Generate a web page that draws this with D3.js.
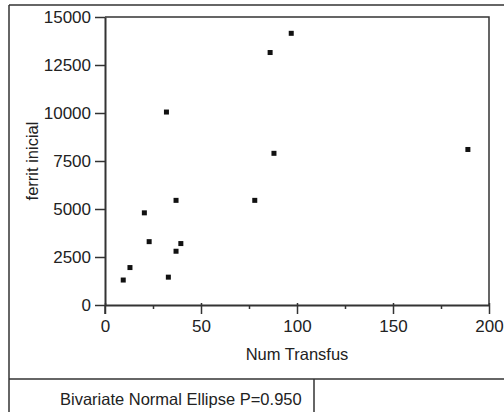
<!DOCTYPE html>
<html>
<head>
<meta charset="utf-8">
<script src="https://cdn.jsdelivr.net/npm/d3@7"></script>
<style>
  body { margin: 0; background: #fff; }
  svg { display: block; font-family: "Liberation Sans", Arial, sans-serif; }
  .axis text { font-size: 17px; fill: #222; }
  .axis path, .axis line { stroke: #333; }
</style>
</head>
<body>
<div class="chart"></div>
<script>
// data
const numTransfus = [32, 97, 86, 88, 189, 20.5, 37, 78, 23, 39.5, 37, 13, 9.5, 33];
const ferritInicial = [10050, 14150, 13150, 7900, 8100, 4800, 5450, 5450, 3300, 3200, 2800, 1950, 1300, 1450];
const xTicks = [0, 50, 100, 150, 200];
const xMinorTicks = [25, 75, 125, 175];
const yTicks = [0, 2500, 5000, 7500, 10000, 12500, 15000];

const W = 504, H = 412;
const margin = { top: 17, right: 15, bottom: 107, left: 105 };
const width = W - margin.left - margin.right,
  height = H - margin.top - margin.bottom;

const svg = d3.select(".chart")
  .append("svg")
  .attr("width", W)
  .attr("height", H);

// outer report frame
const frame = svg.append("g").attr("stroke", "#333").attr("stroke-width", 1.5).attr("fill", "none");
frame.append("line").attr("x1", 9).attr("x2", W).attr("y1", 5).attr("y2", 5);
frame.append("line").attr("x1", 9).attr("x2", 9).attr("y1", 5).attr("y2", H);
frame.append("line").attr("x1", 9).attr("x2", W).attr("y1", 379).attr("y2", 379);
frame.append("line").attr("x1", 314).attr("x2", 314).attr("y1", 379).attr("y2", H);

svg.append("text")
  .attr("x", 60)
  .attr("y", 405)
  .style("font-size", "16.5px")
  .style("fill", "#222")
  .text("Bivariate Normal Ellipse P=0.950");

const g = svg.append("g")
  .attr("transform", "translate(" + margin.left + "," + margin.top + ")");

// scales
const x = d3.scaleLinear().domain([0, 200]).range([0, width]);
const y = d3.scaleLinear().domain([0, 15000]).range([height, 0]);

// plot frame (top and right)
g.append("path")
  .attr("d", "M0,0H" + width + "V" + height)
  .attr("fill", "none")
  .attr("stroke", "#333")
  .attr("stroke-width", 1.5);

// minor x ticks
g.append("g")
  .attr("class", "axis")
  .attr("transform", "translate(0," + height + ")")
  .call(d3.axisBottom(x).tickValues(xMinorTicks).tickSize(4).tickFormat(""))
  .call(a => a.select(".domain").remove())
  .selectAll("line").attr("stroke-width", 1.5);

// x axis
const xAxisG = g.append("g")
  .attr("class", "axis")
  .attr("transform", "translate(0," + height + ")")
  .call(d3.axisBottom(x).tickValues(xTicks).tickFormat(d3.format("d")).tickSize(9).tickSizeOuter(0).tickPadding(6));
xAxisG.select(".domain").attr("stroke-width", 2);
xAxisG.selectAll("line").attr("stroke-width", 1.5).attr("y1", -2);

// y axis
const yAxisG = g.append("g")
  .attr("class", "axis")
  .call(d3.axisLeft(y).tickValues(yTicks).tickFormat(d3.format("d")).tickSize(10).tickSizeOuter(0).tickPadding(4));
yAxisG.select(".domain").attr("stroke-width", 2);
yAxisG.selectAll("line").attr("stroke-width", 1.5);
yAxisG.selectAll("text").attr("dy", "0.35em");

// y axis extends below the x axis
g.append("line")
  .attr("x1", 0).attr("x2", 0)
  .attr("y1", height).attr("y2", height + 9)
  .attr("stroke", "#333").attr("stroke-width", 1.5);

// axis titles
g.append("text")
  .attr("x", width / 2)
  .attr("y", height + 55)
  .attr("text-anchor", "middle")
  .style("font-size", "16.5px")
  .style("fill", "#222")
  .text("Num Transfus");

g.append("text")
  .attr("transform", "translate(" + (38 - margin.left) + "," + height / 2 + ") rotate(-90)")
  .attr("text-anchor", "middle")
  .style("font-size", "16.5px")
  .style("fill", "#222")
  .text("ferrit inicial");

// points
g.selectAll(".pt")
  .data(numTransfus.map((v, i) => ({ x: v, y: ferritInicial[i] })))
  .join("rect")
  .attr("class", "pt")
  .attr("x", d => x(d.x) - 2.5)
  .attr("y", d => y(d.y) - 2.5)
  .attr("width", 5)
  .attr("height", 5)
  .attr("fill", "#111");
</script>
</body>
</html>
